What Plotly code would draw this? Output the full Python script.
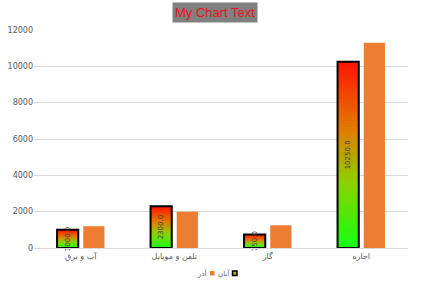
import plotly.graph_objects as go

categories = ["آب و برق", "تلفن و موبایل", "گاز", "اجاره"]
series1_name = "آبان"
series1 = [1000, 2300, 750, 10250]
series2_name = "آذر"
series2 = [1200, 2000, 1250, 11300]
title_text = "My Chart Text"

ORANGE = "#ED7D31"
stops = [(0.0, (20, 255, 20)), (0.35, (140, 210, 0)), (0.62, (222, 128, 0)), (1.0, (255, 20, 0))]


def grad(t):
    for (t0, c0), (t1, c1) in zip(stops[:-1], stops[1:]):
        if t <= t1:
            f = (t - t0) / (t1 - t0) if t1 > t0 else 0
            c = [round(a + (b - a) * f) for a, b in zip(c0, c1)]
            return f"rgb({c[0]},{c[1]},{c[2]})"
    c = stops[-1][1]
    return f"rgb({c[0]},{c[1]},{c[2]})"


fig = go.Figure()
N = 60
for k in range(N):
    base = [v * k / N for v in series1]
    top = [min(v * (k + 1.6) / N, v) for v in series1]
    fig.add_trace(go.Bar(
        x=categories, y=[t - b for t, b in zip(top, base)], base=base,
        offsetgroup="a", marker=dict(color=grad((k + 0.5) / N), line=dict(width=0)),
        showlegend=False, hoverinfo="skip"))

# outline + labels
fig.add_trace(go.Bar(
    x=categories, y=series1, offsetgroup="a", name=series1_name, showlegend=False,
    marker=dict(color="rgba(0,0,0,0)", line=dict(color="black", width=2)),
    text=[f"{v:.1f}" for v in series1], textposition="inside", insidetextanchor="middle",
    textangle=-90, constraintext="none", cliponaxis=False,
    textfont=dict(size=7, color="#404040", family="DejaVu Sans")))
fig.add_trace(go.Bar(
    x=categories, y=series2, offsetgroup="b", name=series2_name, showlegend=False,
    marker=dict(color=ORANGE, line=dict(width=0))))

# compact right-to-left legend (swatch to the right of its label)
PL, PW, PT, PB = 34, 374, 30, 248
PH = PB - PT


def px(x):
    return (x - PL) / PW


def py(y):
    return (PB - y) / PH


shapes = [
    dict(type="rect", xref="paper", yref="paper", x0=px(210), x1=px(214.5), y0=py(275.5), y1=py(271),
         fillcolor=ORANGE, line=dict(width=0)),
    dict(type="rect", xref="paper", yref="paper", x0=px(232.5), x1=px(237), y0=py(275.5), y1=py(271),
         fillcolor="#a8b000", line=dict(color="black", width=1.5)),
]
annotations = [
    dict(text=title_text, x=px(215), xref="paper", y=py(13), yref="paper",
         yanchor="middle", xanchor="center", showarrow=False,
         bgcolor="#808080", borderpad=2,
         font=dict(size=13, color="#E8141C", family="Liberation Sans")),
    dict(text=series2_name, x=px(209), y=py(273), xref="paper", yref="paper",
         xanchor="right", yanchor="middle", showarrow=False,
         font=dict(size=7, color="#595959")),
    dict(text=series1_name, x=px(231.5), y=py(273), xref="paper", yref="paper",
         xanchor="right", yanchor="middle", showarrow=False,
         font=dict(size=7, color="#595959")),
]

fig.update_layout(
    width=427, height=285,
    margin=dict(l=PL, r=427 - PL - PW, t=PT, b=285 - PB, autoexpand=False),
    paper_bgcolor="white", plot_bgcolor="white",
    barmode="group", bargap=0.44, bargroupgap=0.19,
    font=dict(family="DejaVu Sans", size=8, color="#595959"),
    showlegend=False,
    shapes=shapes,
    annotations=annotations,
)
fig.update_yaxes(range=[0, 12000], dtick=2000, showgrid=True, gridcolor="#D9D9D9",
                 gridwidth=1, zeroline=False, ticks="", tickfont=dict(size=8, color="#595959"),
                 tickformat="d")
fig.update_xaxes(showline=True, linecolor="#D9D9D9", linewidth=1, ticks="",
                 tickfont=dict(size=8, color="#595959"))

fig.write_html("out.html")
